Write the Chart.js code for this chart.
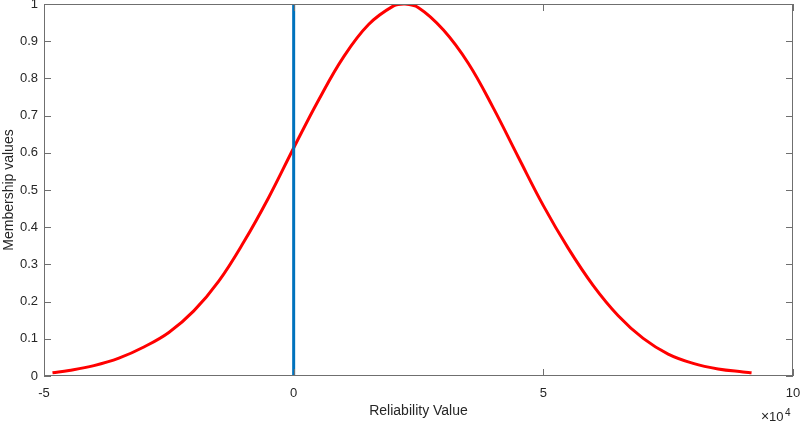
<!DOCTYPE html>
<html>
<head>
<meta charset="utf-8">
<script src="https://cdn.jsdelivr.net/npm/chart.js@4"></script>
<style>
  html, body { margin: 0; padding: 0; background: #fff; }
  #wrap { width: 800px; height: 422px; }
</style>
</head>
<body>
<div id="wrap"><canvas id="chart" width="800" height="422"></canvas></div>
<script>
// x values are in units of 10^4 (the axis shows the exponent separately)
const reliabilityX = [-4.83, -4.5, -4.0, -3.5, -3.0, -2.5, -2.0, -1.5, -1.0, -0.5,
  0, 0.5, 1.0, 1.5, 2.0, 2.2, 2.5, 3.0, 3.5, 4.0, 4.5, 5.0, 5.5, 6.0, 6.5, 7.0,
  7.5, 8.0, 8.5, 9.0, 9.17];
const membership = [0.009, 0.015, 0.028, 0.048, 0.078, 0.117, 0.175, 0.255, 0.36, 0.48,
  0.613, 0.742, 0.858, 0.945, 0.995, 1.0, 0.99, 0.93, 0.84, 0.72, 0.588, 0.458, 0.343,
  0.243, 0.162, 0.101, 0.059, 0.034, 0.019, 0.011, 0.009];
const markerX = [0, 0];
const markerY = [0, 1];
const xTicks = [-5, 0, 5, 10];
const xExponent = "4";

const AXIS_COLOR = "#6f6f6f";
const TEXT_COLOR = "#262626";
const FONT = "'Liberation Sans', Arial, Helvetica, sans-serif";

const curveData = reliabilityX.map((x, i) => ({x, y: membership[i]}));
const markerData = markerX.map((x, i) => ({x, y: markerY[i]}));

// MATLAB-style box with inward tick marks on all four sides
const boxPlugin = {
  id: "matlabBox",
  afterDraw(chart) {
    const {ctx, chartArea: a, scales} = chart;
    const xs = scales.x, ys = scales.y;
    const len = 7;
    ctx.save();
    ctx.strokeStyle = AXIS_COLOR;
    ctx.lineWidth = 1;
    ctx.strokeRect(a.left + 0.5, a.top + 0.5, a.right - a.left - 1, a.bottom - a.top - 1);
    ctx.beginPath();
    xs.ticks.forEach((t) => {
      const px = Math.round(xs.getPixelForValue(t.value)) + 0.5;
      ctx.moveTo(px, a.bottom);
      ctx.lineTo(px, a.bottom - len);
      ctx.moveTo(px, a.top);
      ctx.lineTo(px, a.top + len);
    });
    ys.ticks.forEach((t) => {
      const py = Math.round(ys.getPixelForValue(t.value)) + 0.5;
      ctx.moveTo(a.left, py);
      ctx.lineTo(a.left + len, py);
      ctx.moveTo(a.right, py);
      ctx.lineTo(a.right - len, py);
    });
    ctx.stroke();

    // exponent label under the right end of the x axis
    ctx.fillStyle = TEXT_COLOR;
    ctx.textBaseline = "alphabetic";
    ctx.textAlign = "left";
    ctx.font = "14px " + FONT;
    ctx.fillText("\u00d7", 761, 421);
    ctx.font = "13px " + FONT;
    ctx.fillText("10", 769, 421);
    ctx.font = "10px " + FONT;
    ctx.fillText(xExponent, 785, 416);
    ctx.restore();
  },
};

new Chart(document.getElementById("chart"), {
  type: "scatter",
  data: {
    datasets: [
      {
        data: curveData,
        showLine: true,
        borderColor: "#ff0000",
        borderWidth: 3,
        pointRadius: 0,
        tension: 0.4,
        order: 2,
      },
      {
        data: markerData,
        showLine: true,
        borderColor: "#0072bd",
        borderWidth: 3,
        pointRadius: 0,
        order: 1,
      },
    ],
  },
  options: {
    responsive: false,
    animation: false,
    events: [],
    layout: {padding: {top: 4, right: 7, left: 0, bottom: 0}},
    plugins: {legend: {display: false}, tooltip: {enabled: false}},
    scales: {
      x: {
        type: "linear",
        min: -5,
        max: 10,
        afterBuildTicks(scale) {
          scale.ticks = xTicks.map((v) => ({value: v}));
        },
        afterFit(scale) {
          scale.height = 46;
          scale.paddingLeft = 0;
          scale.paddingRight = 0;
        },
        grid: {display: false, drawTicks: false},
        border: {display: false},
        ticks: {
          color: TEXT_COLOR,
          font: {family: FONT, size: 13},
          padding: 10,
          maxRotation: 0,
          autoSkip: false,
        },
        title: {
          display: true,
          text: "Reliability Value",
          color: TEXT_COLOR,
          font: {family: FONT, size: 14},
          padding: {top: 0, bottom: 2},
        },
      },
      y: {
        type: "linear",
        min: 0,
        max: 1,
        afterFit(scale) {
          scale.width = 44;
          scale.paddingTop = 0;
          scale.paddingBottom = 0;
        },
        grid: {display: false, drawTicks: false},
        border: {display: false},
        ticks: {
          stepSize: 0.1,
          color: TEXT_COLOR,
          font: {family: FONT, size: 13},
          padding: 6,
          callback: (v) => String(Math.round(v * 10) / 10),
        },
        title: {
          display: true,
          text: "Membership values",
          color: TEXT_COLOR,
          font: {family: FONT, size: 14},
          padding: {top: 1, bottom: 0},
        },
      },
    },
  },
  plugins: [boxPlugin],
});
</script>
</body>
</html>
